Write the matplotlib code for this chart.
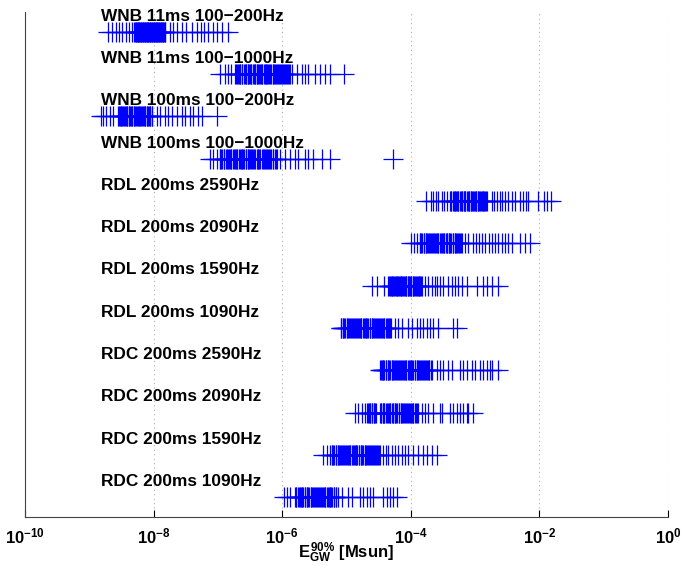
import matplotlib
matplotlib.use("Agg")
import matplotlib.pyplot as plt
import numpy as np
from matplotlib.ticker import FixedLocator, FuncFormatter, NullLocator

plt.rcParams["font.family"] = ["Liberation Sans", "DejaVu Sans"]
plt.rcParams["mathtext.fontset"] = "custom"
plt.rcParams["mathtext.rm"] = "Liberation Sans:bold"
plt.rcParams["mathtext.bf"] = "Liberation Sans:bold"
plt.rcParams["mathtext.it"] = "Liberation Sans:bold"

# Event labels, top to bottom
LABELS = [
    "WNB 11ms 100\u2212200Hz",
    "WNB 11ms 100\u22121000Hz",
    "WNB 100ms 100\u2212200Hz",
    "WNB 100ms 100\u22121000Hz",
    "RDL 200ms 2590Hz",
    "RDL 200ms 2090Hz",
    "RDL 200ms 1590Hz",
    "RDL 200ms 1090Hz",
    "RDC 200ms 2590Hz",
    "RDC 200ms 2090Hz",
    "RDC 200ms 1590Hz",
    "RDC 200ms 1090Hz",
]

# log10 of E_GW^90% [Msun]
wnb11_200 = [
    -8.71, -8.65, -8.58, -8.54, -8.49, -8.43, -8.38, -8.33,
    -8.30, -8.28, -8.26, -8.25, -8.22, -8.20, -8.18, -8.17, -8.15, -8.12,
    -8.11, -8.09, -8.06, -8.05, -8.03, -8.00, -7.98, -7.97, -7.95, -7.92,
    -7.91, -7.88, -7.86, -7.85, -7.82,
    -8.29, -8.27, -8.24, -8.23, -8.21, -8.19, -8.16, -8.14, -8.13, -8.10,
    -8.08, -8.07, -8.04, -8.02, -8.01, -7.99, -7.96, -7.94, -7.93, -7.90,
    -7.89, -7.87, -7.84, -7.83,
    -7.75, -7.70, -7.64, -7.56, -7.50, -7.40, -7.33, -7.26, -7.22, -7.15,
    -7.08, -7.01, -6.94, -6.84,
]
wnb11_1000 = [
    -6.97, -6.89, -6.84, -6.80,
    -6.73, -6.71, -6.67, -6.65, -6.62, -6.58, -6.56, -6.53, -6.50, -6.48,
    -6.44, -6.42, -6.39, -6.36, -6.33, -6.31, -6.27, -6.25, -6.22, -6.19,
    -6.15, -6.13, -6.10, -6.06, -6.04, -6.00, -5.98, -5.94, -5.91, -5.88,
    -6.72, -6.69, -6.66, -6.63, -6.60, -6.57, -6.54, -6.51, -6.49, -6.46,
    -6.43, -6.40, -6.37, -6.34, -6.32, -6.29, -6.26, -6.23, -6.20, -6.17,
    -6.14, -6.11, -6.08, -6.05, -6.02, -5.99, -5.96, -5.93, -5.90,
    -5.85, -5.77, -5.69, -5.65, -5.60, -5.49, -5.41, -5.33, -5.26, -5.04,
]
wnb100_200 = [
    -8.82, -8.79, -8.74, -8.68, -8.63,
    -8.55, -8.53, -8.50, -8.47, -8.45, -8.42, -8.39, -8.37, -8.34, -8.31,
    -8.29, -8.26, -8.23, -8.21, -8.18, -8.15, -8.13, -8.10, -8.07, -8.05,
    -8.02,
    -8.54, -8.51, -8.49, -8.46, -8.43, -8.41, -8.38, -8.35, -8.33, -8.30,
    -8.27, -8.24, -8.22, -8.19, -8.16, -8.14, -8.11, -8.09, -8.06, -8.03,
    -7.95, -7.90, -7.82, -7.78, -7.71, -7.64, -7.56, -7.51, -7.43, -7.39,
    -7.31, -7.25, -7.01,
]
wnb100_1000 = [
    -7.12, -7.08, -7.01,
    -6.97, -6.95, -6.91, -6.88, -6.85, -6.81, -6.79, -6.75, -6.72, -6.70,
    -6.66, -6.63, -6.61, -6.57, -6.54, -6.52, -6.48, -6.45, -6.43, -6.38,
    -6.36, -6.32, -6.29, -6.26, -6.22, -6.19, -6.15, -6.12, -6.08,
    -6.96, -6.93, -6.90, -6.86, -6.83, -6.80, -6.77, -6.74, -6.71, -6.68,
    -6.64, -6.62, -6.59, -6.56, -6.53, -6.50, -6.47, -6.44, -6.40, -6.37,
    -6.34, -6.30, -6.27, -6.24, -6.20, -6.17, -6.14, -6.10,
    -6.03, -5.96, -5.88, -5.80, -5.75, -5.65, -5.60, -5.52, -5.38, -5.26,
    -4.28,
]
rdl_2590 = [
    -3.76, -3.69, -3.65, -3.61, -3.58, -3.51, -3.48, -3.44,
    -3.39, -3.37, -3.33, -3.31, -3.28, -3.26, -3.22, -3.20, -3.17, -3.15,
    -3.11, -3.09, -3.06, -3.04, -3.00, -2.98, -2.95, -2.93, -2.89, -2.87,
    -2.84, -2.81,
    -3.38, -3.35, -3.32, -3.30, -3.27, -3.24, -3.21, -3.18, -3.16, -3.13,
    -3.10, -3.07, -3.05, -3.02, -2.99, -2.96, -2.94, -2.91, -2.88, -2.86,
    -2.83,
    -2.74, -2.71, -2.66, -2.61, -2.58, -2.53, -2.49, -2.43, -2.38, -2.30,
    -2.26, -2.21, -2.18, -2.02, -1.93, -1.88, -1.82,
]
rdl_2090 = [
    -4.00, -3.95, -3.90,
    -3.86, -3.84, -3.80, -3.77, -3.75, -3.71, -3.68, -3.66, -3.62, -3.59,
    -3.57, -3.53, -3.50, -3.48, -3.44, -3.41, -3.39, -3.35, -3.32, -3.30,
    -3.26, -3.23, -3.20,
    -3.85, -3.82, -3.79, -3.76, -3.73, -3.70, -3.67, -3.64, -3.61, -3.58,
    -3.55, -3.52, -3.49, -3.46, -3.43, -3.40, -3.37, -3.34, -3.31, -3.28,
    -3.25, -3.22,
    -3.16, -3.11, -3.03, -2.99, -2.94, -2.89, -2.85, -2.78, -2.74,
    -2.69, -2.64, -2.58, -2.53, -2.49, -2.43, -2.30, -2.22, -2.15,
]
rdl_1590 = [
    -4.60, -4.53, -4.42,
    -4.35, -4.33, -4.30, -4.28, -4.25, -4.22, -4.20, -4.17, -4.15, -4.12,
    -4.09, -4.07, -4.04, -4.02, -3.99, -3.96, -3.93, -3.91, -3.88, -3.85,
    -3.83,
    -4.34, -4.31, -4.29, -4.26, -4.23, -4.21, -4.18, -4.16, -4.13, -4.11,
    -4.08, -4.05, -4.03, -4.00, -3.97, -3.95, -3.92, -3.89, -3.87, -3.84,
    -3.78, -3.73, -3.67, -3.62, -3.59, -3.55, -3.50,
    -3.42, -3.36, -3.31, -3.27, -3.20, -3.13,
    -2.97, -2.88, -2.82, -2.74, -2.64,
]
rdl_1090 = [
    -5.09, -5.06, -5.04, -5.00, -4.97, -4.95, -4.91, -4.88, -4.86, -4.82,
    -4.79, -4.77, -4.73, -4.70, -4.68, -4.64, -4.61, -4.59, -4.55, -4.52,
    -4.50, -4.46, -4.43, -4.41, -4.37, -4.34, -4.31,
    -5.08, -5.05, -5.02, -4.99, -4.96, -4.93, -4.90, -4.87, -4.84, -4.81,
    -4.78, -4.75, -4.72, -4.69, -4.66, -4.63, -4.60, -4.57, -4.54, -4.51,
    -4.48, -4.45, -4.42, -4.39, -4.36, -4.33,
    -4.25, -4.20, -4.14, -4.04, -3.98, -3.90, -3.86, -3.81, -3.75, -3.70,
    -3.65, -3.58, -3.34, -3.28,
]
rdc_2590 = [
    -4.48, -4.45, -4.43, -4.39, -4.36, -4.34, -4.30, -4.27, -4.25, -4.21,
    -4.18, -4.16, -4.12, -4.09, -4.07, -4.03, -4.00, -3.98, -3.94, -3.91,
    -3.89, -3.85, -3.82, -3.80, -3.76, -3.73, -3.71, -3.67,
    -4.47, -4.44, -4.41, -4.38, -4.35, -4.32, -4.29, -4.26, -4.23, -4.20,
    -4.17, -4.14, -4.11, -4.08, -4.05, -4.02, -3.99, -3.96, -3.93, -3.90,
    -3.87, -3.84, -3.81, -3.78, -3.75, -3.72, -3.69,
    -3.59, -3.55, -3.50, -3.42, -3.36, -3.23, -3.19, -3.13, -3.05, -3.00,
    -2.92, -2.88, -2.82, -2.77, -2.74, -2.64,
]
rdc_2090 = [
    -4.87, -4.82, -4.76, -4.71,
    -4.68, -4.65, -4.63, -4.60, -4.57, -4.54, -4.48, -4.46, -4.43, -4.41,
    -4.37, -4.34, -4.32, -4.28, -4.25, -4.23, -4.19, -4.16, -4.14, -4.10,
    -4.07, -4.05, -4.01, -3.98, -3.96, -3.92, -3.89,
    -4.67, -4.64, -4.61, -4.58, -4.55, -4.47, -4.44, -4.42, -4.39, -4.36,
    -4.33, -4.30, -4.27, -4.24, -4.21, -4.18, -4.15, -4.12, -4.09, -4.06,
    -4.03, -4.00, -3.97, -3.94, -3.91,
    -3.83, -3.78, -3.73, -3.65, -3.55, -3.51, -3.39, -3.34, -3.28, -3.23,
    -3.19, -3.13, -3.11, -3.03,
]
rdc_1590 = [
    -5.37, -5.31, -5.26,
    -5.23, -5.21, -5.17, -5.14, -5.12, -5.08, -5.05, -5.03, -4.99, -4.96,
    -4.94, -4.90, -4.87, -4.85, -4.81, -4.78, -4.76, -4.72, -4.69, -4.67,
    -4.63, -4.60, -4.58, -4.54, -4.51, -4.48,
    -5.22, -5.19, -5.16, -5.13, -5.10, -5.07, -5.04, -5.01, -4.98, -4.95,
    -4.92, -4.89, -4.86, -4.83, -4.80, -4.77, -4.74, -4.71, -4.68, -4.65,
    -4.62, -4.59, -4.56, -4.53, -4.50,
    -4.43, -4.39, -4.35, -4.29, -4.25, -4.20, -4.14, -4.09, -4.04, -3.97,
    -3.89, -3.81, -3.75, -3.67, -3.59,
]
rdc_1090 = [
    -5.97, -5.93, -5.88,
    -5.80, -5.78, -5.74, -5.71, -5.69, -5.65, -5.62, -5.60, -5.56, -5.53,
    -5.51, -5.47, -5.44, -5.42, -5.38, -5.35, -5.33, -5.29, -5.26, -5.24,
    -5.20, -5.17, -5.13,
    -5.79, -5.76, -5.73, -5.70, -5.67, -5.64, -5.61, -5.58, -5.55, -5.52,
    -5.49, -5.46, -5.43, -5.40, -5.37, -5.34, -5.31, -5.28, -5.25, -5.22,
    -5.19, -5.16,
    -5.07, -4.98, -4.91, -4.79, -4.74, -4.68, -4.63, -4.59, -4.43, -4.37,
    -4.32, -4.28, -4.21,
]

SERIES = [
    wnb11_200, wnb11_1000, wnb100_200, wnb100_1000,
    rdl_2590, rdl_2090, rdl_1590, rdl_1090,
    rdc_2590, rdc_2090, rdc_1590, rdc_1090,
]
XTICKS = [1e-10, 1e-8, 1e-6, 1e-4, 1e-2, 1e0]

fig = plt.figure(figsize=(6.82, 5.66), dpi=100)
ax = fig.add_axes([0.0367, 0.0866, 0.9428, 0.8922])

n = len(LABELS)
for i, (label, vals) in enumerate(zip(LABELS, SERIES)):
    y = n - i
    energies = 10.0 ** np.array(vals)
    ax.plot(energies, np.full(len(energies), y), linestyle="none",
            marker="+", markersize=14.5, markeredgewidth=0.9,
            color="#0000ff")
    ax.text(1.5e-9, y + 0.37, label, fontsize=12.4, fontweight="bold",
            ha="left", va="center")

ax.set_xscale("log")
ax.set_xlim(1e-10, 1e0)
ax.set_ylim(0.53, n + 0.47)

ax.xaxis.set_major_locator(FixedLocator(XTICKS))
ax.xaxis.set_minor_locator(NullLocator())
ax.xaxis.set_major_formatter(
    FuncFormatter(lambda v, _: r"$10^{%d}$" % int(round(np.log10(v))))
)
ax.yaxis.set_major_locator(NullLocator())
ax.tick_params(axis="x", direction="in", length=5, width=0.8,
               labelsize=12, pad=7, top=False)
ax.grid(True, axis="x", linestyle=(0, (1, 3)), color="#b0b0b0",
        linewidth=0.8)

for side in ["top", "right"]:
    ax.spines[side].set_visible(False)
for side in ["left", "bottom"]:
    ax.spines[side].set_color("#444444")
    ax.spines[side].set_linewidth(0.8)

ax.set_xlabel(r"$E_{GW}^{90\%}$ [Msun]", fontsize=12, fontweight="bold",
              labelpad=-4)

fig.savefig("out.png", dpi=100)
